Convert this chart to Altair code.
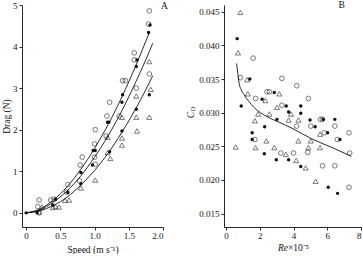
import altair as alt
import pandas as pd

FONT = "Liberation Serif"
INK = "#111111"

# ---------------- Panel A: drag against speed ----------------
a_open_speed = [0.19, 0.17, 0.19, 0.36, 0.41, 0.59, 0.61, 0.78, 0.79, 0.82, 1.01, 1.00, 1.00,
                1.01, 1.17, 1.18, 1.22, 1.36, 1.41, 1.45, 1.58, 1.58, 1.61, 1.80, 1.79, 1.80]
a_open_drag = [0.00, 0.15, 0.31, 0.31, 0.33, 0.50, 0.68, 0.77, 1.15, 1.34, 1.17, 1.34, 1.66,
               2.00, 1.85, 2.33, 2.66, 2.33, 3.18, 3.18, 3.85, 3.68, 3.00, 3.34, 4.54, 4.86]

a_dot_speed = [0.00, 0.16, 0.39, 0.43, 0.61, 0.80, 0.80, 0.97, 0.98, 1.01, 1.19, 1.21, 1.22,
               1.40, 1.40, 1.41, 1.61, 1.61, 1.62, 1.80, 1.79, 1.81]
a_dot_drag = [0.00, 0.01, 0.19, 0.33, 0.49, 0.70, 0.97, 1.15, 1.50, 1.50, 2.18, 2.18, 1.47,
              1.97, 2.66, 2.84, 2.49, 3.52, 3.68, 2.84, 4.34, 4.52]

a_tri_speed = [0.19, 0.23, 0.39, 0.43, 0.48, 0.57, 0.63, 0.80, 1.01, 1.19, 1.23, 1.19, 1.40,
               1.40, 1.40, 1.62, 1.61, 1.61, 1.80, 1.82, 1.80]
a_tri_drag = [0.02, 0.14, 0.13, 0.15, 0.14, 0.30, 0.31, 0.60, 0.79, 1.45, 1.31, 1.82, 1.63,
              1.80, 2.30, 1.97, 2.30, 2.81, 2.30, 2.97, 3.64]

# fitted curves, sampled along their length
fit_speed = [0.0, 0.2, 0.4, 0.6, 0.8, 1.0, 1.2, 1.4, 1.6, 1.8, 1.85]
fit_upper = [0.0, 0.09, 0.31, 0.63, 1.05, 1.55, 2.13, 2.79, 3.53, 4.34, None]
fit_middle = [0.0, 0.07, 0.26, 0.53, 0.89, 1.34, 1.86, 2.46, 3.14, 3.88, 4.08]
fit_lower = [0.0, 0.05, 0.18, 0.38, 0.67, 1.02, 1.44, 1.94, 2.50, 3.13, 3.30]

speed_ticks = [0, 0.5, 1.0, 1.5, 2.0]
drag_ticks = [0, 1, 2, 3, 4, 5]

# ---------------- Panel B: drag coefficient against Reynolds number ----------------
b_open_re = [0.86, 1.61, 3.31, 4.19, 1.75, 2.43, 2.57, 4.88, 3.31, 4.19, 5.02, 5.60, 5.72,
             6.45, 5.82, 7.29, 1.71, 6.60, 3.25, 4.00, 4.84, 7.33, 5.72, 6.45, 7.29]
b_open_cd = [0.0352, 0.0381, 0.0351, 0.0340, 0.0321, 0.0331, 0.0331, 0.0321, 0.0311, 0.0280,
             0.0280, 0.0290, 0.0290, 0.0280, 0.0270, 0.0270, 0.0260, 0.0260, 0.0240, 0.0240,
             0.0241, 0.0240, 0.0221, 0.0221, 0.0189]

b_dot_re = [0.66, 1.41, 2.14, 2.86, 0.90, 3.57, 4.43, 3.71, 4.43, 3.02, 4.98, 5.76, 6.45,
            2.29, 5.28, 6.02, 1.55, 1.55, 6.75, 2.27, 2.98, 3.71, 4.43, 6.06, 6.61]
b_dot_cd = [0.0410, 0.0350, 0.0320, 0.0330, 0.0310, 0.0310, 0.0310, 0.0301, 0.0299, 0.0290,
            0.0289, 0.0290, 0.0290, 0.0279, 0.0279, 0.0270, 0.0270, 0.0260, 0.0260, 0.0239,
            0.0230, 0.0230, 0.0220, 0.0189, 0.0180]

b_tri_re = [0.85, 0.71, 1.25, 1.29, 2.33, 3.16, 3.02, 1.90, 2.57, 3.85, 1.71, 3.71, 4.29,
            5.57, 2.39, 4.29, 5.02, 0.57, 1.75, 2.86, 4.88, 5.57, 3.55, 4.16, 4.72, 5.31]
b_tri_cd = [0.0449, 0.0389, 0.0349, 0.0328, 0.0318, 0.0328, 0.0308, 0.0298, 0.0298, 0.0298,
            0.0288, 0.0289, 0.0289, 0.0268, 0.0258, 0.0258, 0.0258, 0.0249, 0.0248, 0.0248,
            0.0248, 0.0248, 0.0238, 0.0229, 0.0218, 0.0198]

fit_re = [0.63, 0.70, 0.76, 0.90, 1.06, 1.65, 2.43, 3.12, 3.90, 5.08, 6.30, 7.43]
fit_cd = [0.0373, 0.0358, 0.0346, 0.0334, 0.0327, 0.0308, 0.0294, 0.0286, 0.0277, 0.0261,
          0.0248, 0.0235]

re_ticks = [0, 2, 4, 6, 8]
cd_ticks = [0.015, 0.020, 0.025, 0.030, 0.035, 0.040, 0.045]


def frame(xs, ys):
    return pd.DataFrame({"x": xs, "y": ys})


fit_a = pd.concat([
    pd.DataFrame({"x": fit_speed, "y": fit_upper, "curve": "upper"}),
    pd.DataFrame({"x": fit_speed, "y": fit_middle, "curve": "middle"}),
    pd.DataFrame({"x": fit_speed, "y": fit_lower, "curve": "lower"}),
]).dropna()

axis_common = dict(
    labelFont=FONT, labelFontSize=9, labelColor=INK,
    titleFont=FONT, titleFontSize=9.5, titleColor=INK, titleFontWeight="normal",
    domainColor=INK, tickColor=INK, tickSize=3, domainWidth=0.9, tickWidth=0.9,
    grid=False,
)

xa = alt.X("x:Q", scale=alt.Scale(domain=[-0.06, 2.0], nice=False, zero=False),
           axis=alt.Axis(values=speed_ticks,
                         labelExpr="datum.value == 0 ? '0' : format(datum.value, '.1f')",
                         title="Speed (m s\u207b\u00b9)", titlePadding=4.5, labelPadding=1,
                         **axis_common))
ya = alt.Y("y:Q", scale=alt.Scale(domain=[-0.34, 5.0], nice=False, zero=False),
           axis=alt.Axis(values=drag_ticks, title="Drag (N)", titlePadding=1, labelPadding=2,
                         **axis_common))

pts_a_open = alt.Chart(frame(a_open_speed, a_open_drag)).mark_point(
    shape="circle", filled=False, size=22, color=INK, strokeWidth=0.8).encode(x=xa, y=ya)
pts_a_dot = alt.Chart(frame(a_dot_speed, a_dot_drag)).mark_point(
    shape="circle", filled=True, size=12, color=INK, opacity=1).encode(x=xa, y=ya)
pts_a_tri = alt.Chart(frame(a_tri_speed, a_tri_drag)).mark_point(
    shape="triangle-up", filled=False, size=26, color=INK, strokeWidth=0.8).encode(x=xa, y=ya)
lines_a = alt.Chart(fit_a).mark_line(color=INK, strokeWidth=0.9, interpolate="monotone").encode(
    x=xa, y=ya, detail="curve:N")
tag_a = alt.Chart(pd.DataFrame({"t": ["A"]})).mark_text(
    font=FONT, fontSize=9.5, color=INK, align="center", baseline="middle").encode(
    text="t:N", x=alt.value(142.5), y=alt.value(0.5))

panel_a = alt.layer(lines_a, pts_a_open, pts_a_dot, pts_a_tri, tag_a).properties(width=141, height=222)

xb = alt.X("x:Q", scale=alt.Scale(domain=[-0.12, 8.0], nice=False, zero=False),
           axis=alt.Axis(values=re_ticks, title=None, labelPadding=1,
                         labelAlign=alt.ExprRef("datum.value == 8 ? 'right' : 'center'"),
                         **axis_common))
yb = alt.Y("y:Q", scale=alt.Scale(domain=[0.0130, 0.0460], nice=False, zero=False),
           axis=alt.Axis(values=cd_ticks, format=".3f", title=None, labelPadding=2,
                         **axis_common))

pts_b_open = alt.Chart(frame(b_open_re, b_open_cd)).mark_point(
    shape="circle", filled=False, size=22, color=INK, strokeWidth=0.8).encode(x=xb, y=yb)
pts_b_dot = alt.Chart(frame(b_dot_re, b_dot_cd)).mark_point(
    shape="circle", filled=True, size=12, color=INK, opacity=1).encode(x=xb, y=yb)
pts_b_tri = alt.Chart(frame(b_tri_re, b_tri_cd)).mark_point(
    shape="triangle-up", filled=False, size=26, color=INK, strokeWidth=0.8).encode(x=xb, y=yb)
line_b = alt.Chart(frame(fit_re, fit_cd)).mark_line(
    color=INK, strokeWidth=0.9, interpolate="monotone").encode(x=xb, y=yb)

tag_b = alt.Chart(pd.DataFrame({"t": ["B"]})).mark_text(
    font=FONT, fontSize=9.5, color=INK, align="center", baseline="middle").encode(
    text="t:N", x=alt.value(117.7), y=alt.value(0))

# y title C_D (rotated, with subscript)
cd_c = alt.Chart(pd.DataFrame({"t": ["C"]})).mark_text(
    font=FONT, fontSize=9.5, fontStyle="italic", color=INK, angle=270, align="center",
    baseline="middle").encode(text="t:N", x=alt.value(-33), y=alt.value(110))
cd_d = alt.Chart(pd.DataFrame({"t": ["D"]})).mark_text(
    font=FONT, fontSize=6.5, color=INK, angle=270, align="center",
    baseline="middle").encode(text="t:N", x=alt.value(-31), y=alt.value(104))

# x title Re x 10^-5
re_it = alt.Chart(pd.DataFrame({"t": ["Re"]})).mark_text(
    font=FONT, fontSize=9.5, fontStyle="italic", color=INK, align="right",
    baseline="middle").encode(text="t:N", x=alt.value(64), y=alt.value(243.3))
re_rest = alt.Chart(pd.DataFrame({"t": ["\u00d710\u207b\u2075"]})).mark_text(
    font=FONT, fontSize=9.5, color=INK, align="left",
    baseline="middle").encode(text="t:N", x=alt.value(64), y=alt.value(243.3))

panel_b = alt.layer(line_b, pts_b_open, pts_b_dot, pts_b_tri, tag_b, cd_c, cd_d, re_it, re_rest
                    ).properties(width=137, height=222)

chart = alt.hconcat(panel_a, panel_b, spacing=18).properties(
    padding={"left": 1, "top": 0, "right": 0, "bottom": 0},
    background="white",
).configure_view(stroke=None).configure_concat(spacing=18)

chart.save("out.html", embed_options={"renderer": "svg", "actions": False})
